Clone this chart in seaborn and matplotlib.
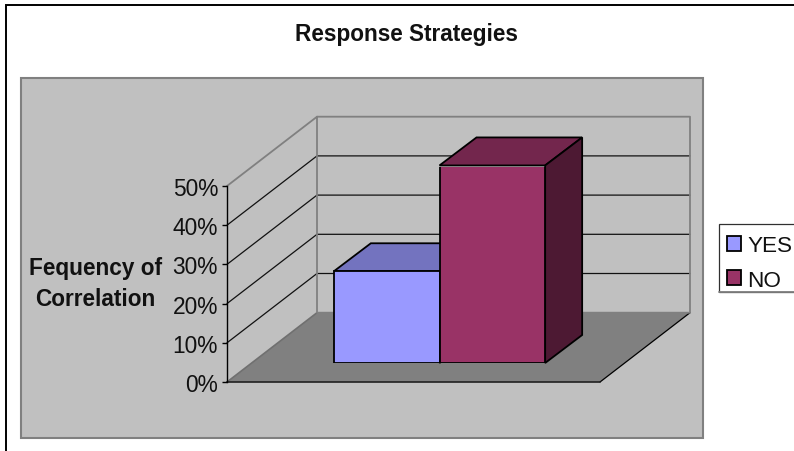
import matplotlib
matplotlib.use("Agg")
import matplotlib.pyplot as plt
from matplotlib.patches import Polygon, Rectangle
from matplotlib.ticker import PercentFormatter
import pandas as pd
import seaborn as sns

# Chart values
answers = ["YES", "NO"]
shares = [23.4, 50.4]
axis_ticks = [0, 10, 20, 30, 40, 50]
front_colors = ["#9999FF", "#993366"]
top_colors = ["#7373BF", "#73264D"]
side_colors = ["#565690", "#4D1933"]

W, H = 794, 452
sns.set_theme(style="white")
plt.rcParams["font.family"] = ["Liberation Sans", "DejaVu Sans"]
fig = plt.figure(figsize=(W / 100, H / 100), dpi=100, facecolor="white")


def px_axes(left, top, right, bottom, **kw):
    return fig.add_axes([left / W, 1 - bottom / H, (right - left) / W, (bottom - top) / H], **kw)


# Backdrop axes measured in pixels: frame, plot area, walls and floor
canvas = px_axes(0, 0, W, H)
canvas.set_xlim(0, W)
canvas.set_ylim(H, 0)
canvas.axis("off")

canvas.add_patch(Rectangle((6, 5.5), W, H, fc="white", ec="black", lw=1.4))
canvas.add_patch(Rectangle((20.5, 79), 682, 360, fc="#C0C0C0", ec="#808080", lw=1.5))

# Legend box runs past the right edge of the figure
canvas.add_patch(Rectangle((718.7, 225.3), 90, 67.4, fc="white", ec="#303030", lw=0.9))
canvas.plot([718.7, W], [292.7, 292.7], color="#808080", lw=1.3)

# Oblique box: front plane and the shift towards the back wall
x0, x1 = 227, 600
y_base, px_per_unit = 383, 3.92
depth_x, depth_y = 90, -69.3


def y_of(v):
    return y_base - px_per_unit * v


top_v = axis_ticks[-1]
canvas.add_patch(Polygon(
    [(x0, y_base), (x1, y_base), (x1 + depth_x, y_base + depth_y), (x0 + depth_x, y_base + depth_y)],
    fc="#808080", ec="none"))
canvas.plot([x0, x0 + depth_x], [y_base, y_base + depth_y], color="#707070", lw=1.2)
canvas.plot([x1, x1 + depth_x], [y_base, y_base + depth_y], color="black", lw=0.9)
canvas.plot([x0, x1], [y_base, y_base], color="#202020", lw=1.2)

for v in axis_ticks[1:-1]:
    y = y_of(v)
    canvas.plot([x0, x0 + depth_x, x1 + depth_x],
                [y, y + depth_y, y + depth_y], color="#111111", lw=0.9)
y_top = y_of(top_v)
canvas.plot([x0, x0 + depth_x, x1 + depth_x, x1 + depth_x, x0 + depth_x, x0 + depth_x],
            [y_top, y_top + depth_y, y_top + depth_y, y_base + depth_y, y_base + depth_y, y_top + depth_y],
            color="#808080", lw=1.3)

# Value axis sits on the front-left edge of the box
value_ax = px_axes(x0, y_of(top_v), x1, y_base)
value_ax.patch.set_alpha(0)
value_ax.set_ylim(0, top_v)
value_ax.set_xticks([])
value_ax.set_yticks(axis_ticks)
value_ax.yaxis.set_major_formatter(PercentFormatter(decimals=0))
value_ax.tick_params(axis="y", left=True, length=3.5, width=1, color="black", pad=3,
                     labelsize=16.4, labelcolor="#111111")
sns.despine(ax=value_ax, bottom=True)
value_ax.spines["left"].set_color("black")
value_ax.spines["left"].set_linewidth(1)

# Bars stand part way back on the floor
shift_x, shift_y = 26.0, -19.0
bar_depth_x, bar_depth_y = 37, -28
bar_ax = px_axes(x0 + shift_x, y_of(top_v) + shift_y, x1 + shift_x, y_base + shift_y)
bar_ax.patch.set_alpha(0)

frame = pd.DataFrame({"group": [""] * len(answers), "answer": answers, "share": shares})
sns.barplot(data=frame, x="group", y="share", hue="answer", hue_order=answers,
            palette=front_colors, width=0.5665, edgecolor="black", linewidth=1.3,
            saturation=1, ax=bar_ax, zorder=3)
bar_ax.set_xlim(-0.5, 0.5)
bar_ax.set_ylim(0, top_v)
bar_ax.axis("off")

# Top and side faces follow each bar's own geometry
ux = 1 / (x1 - x0)
uy = top_v / (y_base - y_of(top_v))
dx, dy = bar_depth_x * ux, -bar_depth_y * uy
for bar, top_c, side_c in zip(bar_ax.patches[:len(answers)], top_colors, side_colors):
    l, r, h = bar.get_x(), bar.get_x() + bar.get_width(), bar.get_height()
    bar_ax.add_patch(Polygon([(l, h), (r, h), (r + dx, h + dy), (l + dx, h + dy)],
                             fc=top_c, ec="black", lw=1.3, clip_on=False, zorder=2))
    bar_ax.add_patch(Polygon([(r, 0), (r, h), (r + dx, h + dy), (r + dx, dy)],
                             fc=side_c, ec="black", lw=1.3, clip_on=False, zorder=2))

sns.move_legend(bar_ax, loc="lower left", bbox_to_anchor=(718.7 / W, 1 - 300.2 / H),
                bbox_transform=fig.transFigure, title=None, frameon=False,
                fontsize=16.2, handlelength=0.62, handleheight=0.62, handletextpad=0.28,
                labelspacing=0.59, borderpad=0.38, borderaxespad=0, labelcolor="#111111")

fig.text(406.5 / W, 1 - 34 / H, "Response Strategies", ha="center", va="center",
         fontsize=16.3, fontweight="bold", color="#111111")
fig.text(95.5 / W, 1 - 284 / H, "Fequency of\nCorrelation", ha="center", va="center",
         fontsize=16.3, fontweight="bold", color="#111111", linespacing=1.42)

fig.savefig("out.png", dpi=100)
